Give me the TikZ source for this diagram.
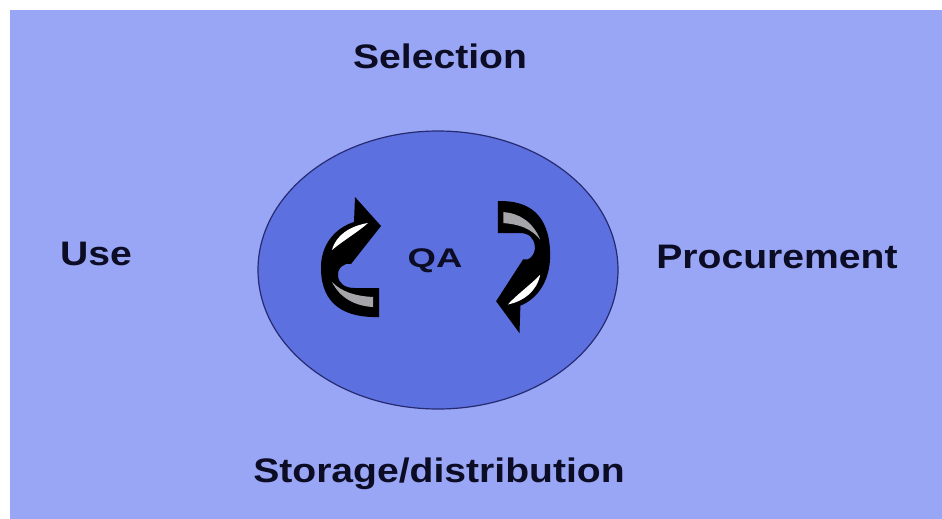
\documentclass[tikz,border=0pt]{standalone}
\usepackage{fontspec}
\setmainfont{Liberation Sans}
\usepackage{graphicx}
\usetikzlibrary{shapes.geometric}

\definecolor{panelblue}{RGB}{152,166,245}
\definecolor{coreblue}{RGB}{92,112,224}
\definecolor{coreedge}{RGB}{38,42,112}
\definecolor{inkdark}{RGB}{12,12,36}
\definecolor{shadegrey}{RGB}{165,165,170}

\tikzset{
  stagelabel/.style={inner sep=0pt, text=inkdark,
    font=\fontsize{34}{40}\selectfont\bfseries},
  corelabel/.style={inner sep=0pt, text=inkdark,
    font=\fontsize{27}{32}\selectfont\bfseries},
  % curved ribbon arrow: flat tail at lower right, head at upper right
  pics/cyclearrow/.style={code={
    \fill[black]
      (29,30) -- (29,59)
      .. controls (-5,60) and (-28,47) .. (-29,12)
      .. controls (-30,-13) and (-15,-30) .. (4,-36)
      -- (5,-61) -- (31,-32) -- (1,6)
      .. controls (-5,4) and (-13,10) .. (-12,18)
      .. controls (-11,26) and (-5,30) .. (5,30)
      -- cycle;
    \fill[white]
      (-18,-8) .. controls (-14,-23) and (0,-32) .. (18,-35)
      .. controls (8,-26) and (-6,-18) .. (-18,-8) -- cycle;
    \fill[shadegrey]
      (-18,24) .. controls (-10,40) and (5,48) .. (23,49)
      -- (23,39) .. controls (5,38) and (-8,34) .. (-18,24) -- cycle;
  }}
}

\begin{document}
\begin{tikzpicture}[x=1pt, y=-1pt]
  \useasboundingbox (0,0) rectangle (942,519);
  \fill[white] (0,0) rectangle (942,519);
  \fill[panelblue] (10,10) rectangle (942,519);

  % central quality-assurance disc
  \node[ellipse, draw=coreedge, line width=1.2pt, fill=coreblue,
        minimum width=360pt, minimum height=278pt, inner sep=0pt]
        (core) at (438,270) {};

  \node[corelabel, anchor=base] (qa) at (435,267) {\scalebox{1.35}[1]{QA}};

  \pic (leftloop) at (350,258) {cyclearrow};
  \pic[rotate=180, xscale=0.9, yscale=1.1] (rightloop) at (524,266) {cyclearrow};

  % stages of the cycle
  \node[stagelabel, anchor=base] (sel) at (440,68) {\scalebox{1.15}[1]{Selection}};
  \node[stagelabel, anchor=base west] (use) at (60,265) {\scalebox{1.15}[1]{Use}};
  \node[stagelabel, anchor=base] (proc) at (777,268) {\scalebox{1.15}[1]{Procurement}};
  \node[stagelabel, anchor=base] (stor) at (439,482) {\scalebox{1.15}[1]{Storage/distribution}};
\end{tikzpicture}
\end{document}
